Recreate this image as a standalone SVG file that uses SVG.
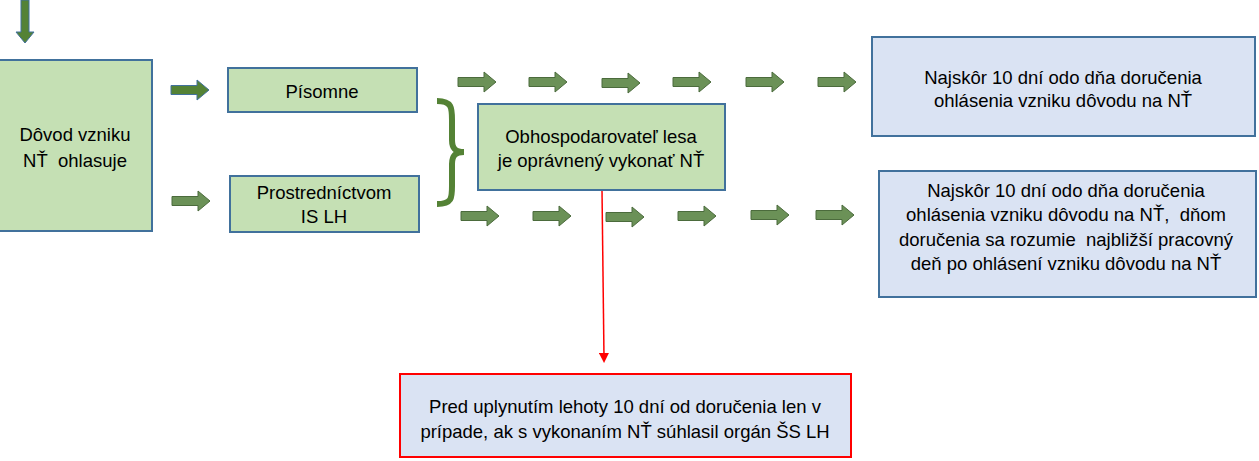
<svg xmlns="http://www.w3.org/2000/svg" width="1259" height="461" viewBox="0 0 1259 461">
<style>
.g{fill:#c5e0b4;stroke:#41719c;stroke-width:2}
.b{fill:#dae3f3;stroke:#41719c;stroke-width:2}
.r{fill:#dae3f3;stroke:#ff0000;stroke-width:2}
.t{font-family:"Liberation Sans",Arial,sans-serif;font-size:18.5px;fill:#000;text-anchor:middle;white-space:pre}
.ga{fill:#6b9157;stroke:#4b6b3c;stroke-width:1}
.ba{fill:#548235;stroke:#41719c;stroke-width:1}
</style>
<defs>
<path id="ar" d="M0,-4.5 H26 V-10 L38,0 L26,10 V4.5 H0 Z"/>
<marker id="rh" markerWidth="10" markerHeight="10" refX="5" refY="5" orient="auto" markerUnits="userSpaceOnUse">
<path d="M0,0 L10,5 L0,10 Z" fill="#ff0000"/>
</marker>
</defs>
<g id="connectors">
<path class="ba" d="M21,0 H29 V32 H34 L25,43 L16,32 H21 Z"/>
<use href="#ar" class="ba" x="171" y="90"/>
<use href="#ar" class="ga" x="172" y="201"/>
<use href="#ar" class="ga" x="458" y="82"/>
<use href="#ar" class="ga" x="529" y="82"/>
<use href="#ar" class="ga" x="602" y="83"/>
<use href="#ar" class="ga" x="673" y="82"/>
<use href="#ar" class="ga" x="746" y="82"/>
<use href="#ar" class="ga" x="818" y="82"/>
<use href="#ar" class="ga" x="461" y="216"/>
<use href="#ar" class="ga" x="533" y="216"/>
<use href="#ar" class="ga" x="606" y="217"/>
<use href="#ar" class="ga" x="678" y="216"/>
<use href="#ar" class="ga" x="751" y="215"/>
<use href="#ar" class="ga" x="816" y="215"/>
<path d="M437,101 C452,101 452,108 452,120 L452,140 C452,148 455,152 464,152 C455,152 452,156 452,164 L452,186 C452,198 452,204 437,204" fill="none" stroke="#548235" stroke-width="6"/>
<line x1="602" y1="190" x2="604" y2="358" stroke="#ff0000" stroke-width="1.5" marker-end="url(#rh)"/>
</g>
<g id="n-dovod">
<rect class="g" x="-1" y="60" width="153" height="171"/>
<text class="t" x="75" y="141">Dôvod vzniku</text>
<text class="t" x="75" y="167">NŤ  ohlasuje</text>
</g>
<g id="n-pisomne">
<rect class="g" x="228" y="68" width="189" height="44"/>
<text class="t" x="322" y="98">Písomne</text>
</g>
<g id="n-is">
<rect class="g" x="230" y="176" width="189" height="56"/>
<text class="t" x="324" y="199">Prostredníctvom</text>
<text class="t" x="324" y="223">IS LH</text>
</g>
<g id="n-obh">
<rect class="g" x="478" y="104" width="247" height="86"/>
<text class="t" x="601" y="143">Obhospodarovateľ lesa</text>
<text class="t" x="601" y="167">je oprávnený vykonať NŤ</text>
</g>
<g id="n-r1">
<rect class="b" x="872" y="37" width="383" height="99"/>
<text class="t" x="1063" y="84">Najskôr 10 dní odo dňa doručenia</text>
<text class="t" x="1063" y="107">ohlásenia vzniku dôvodu na NŤ</text>
</g>
<g id="n-r2">
<rect class="b" x="879" y="171" width="377" height="126"/>
<text class="t" x="1066" y="197">Najskôr 10 dní odo dňa doručenia</text>
<text class="t" x="1066" y="221">ohlásenia vzniku dôvodu na NŤ,  dňom</text>
<text class="t" x="1066" y="246">doručenia sa rozumie  najbližší pracovný</text>
<text class="t" x="1066" y="270">deň po ohlásení vzniku dôvodu na NŤ</text>
</g>
<g id="n-red">
<rect class="r" x="400" y="374" width="451" height="83"/>
<text class="t" x="625" y="413">Pred uplynutím lehoty 10 dní od doručenia len v</text>
<text class="t" x="625" y="438">prípade, ak s vykonaním NŤ súhlasil orgán ŠS LH</text>
</g>
</svg>
